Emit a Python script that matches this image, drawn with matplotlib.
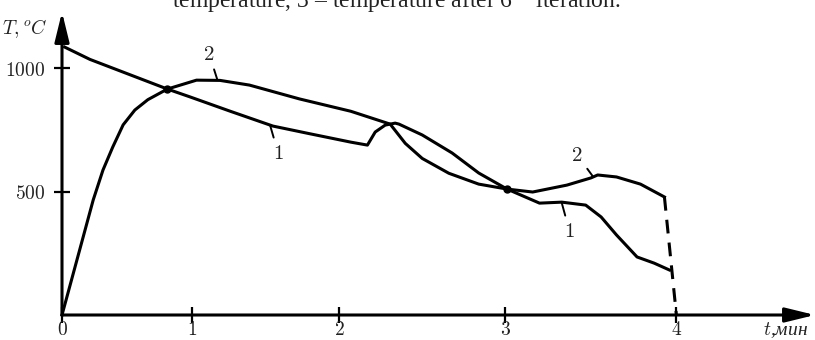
import numpy as np
import matplotlib
matplotlib.use('Agg')
import matplotlib.pyplot as plt

plt.rcParams['mathtext.fontset'] = 'cm'

# time, min / temperature, C
t1 = [0.02, 0.215, 0.81, 0.985, 1.26, 1.55, 1.80, 2.07, 2.17,
      2.217, 2.277, 2.337, 2.36, 2.50, 2.68, 2.84, 3.01,
      3.20, 3.33, 3.47, 3.56, 3.65, 3.77, 3.87, 3.96]
T1 = [1085, 1035, 915, 883, 825, 765, 734, 700, 688,
      741, 769, 777, 773, 729, 656, 575, 510,
      453, 457, 445, 397, 324, 235, 210, 182]

t2 = [0, 0.24, 0.315, 0.39, 0.47, 0.56, 0.66, 0.81, 1.03, 1.19, 1.39, 1.73, 2.07, 2.307,
      2.398, 2.50, 2.66, 2.84, 3.01, 3.16, 3.36, 3.50, 3.54, 3.65, 3.79, 3.93]
T2 = [0, 466, 587, 680, 770, 830, 872, 915, 951, 950, 931, 875, 825, 773,
      695, 634, 574, 530, 510, 498, 526, 555, 567, 559, 530, 478]

# dashed drop at the end of curve 2
t_drop = [3.93, 4.0]
T_drop = [478, 0]

# points where the curves meet
cross_t = [0.81, 3.01]
cross_T = [915, 510]

x_ticks = [0, 1, 2, 3, 4]
y_ticks = [500, 1000]

# curve numbers: text position and the point on the curve the leader goes to
lab_text = ['2', '1', '2', '1']
lab_t = [1.116, 1.585, 3.42, 3.375]
lab_T = [1057, 656, 648, 340]
lead_t = [1.17, 1.53, 3.51, 3.33]
lead_T = [956, 769, 563, 454]

# minute marks are not evenly spaced in the original drawing
knot_t = [0, 1, 2, 3, 4, 5]
knot_p = [0, 130, 277, 443, 614, 785]


def fwd(t):
    return np.interp(t, knot_t, knot_p)


def inv(p):
    return np.interp(p, knot_p, knot_t)


fig = plt.figure(figsize=(8.15, 3.4), dpi=100)
ax = fig.add_axes([62 / 815, 25 / 340, 753 / 815, 303 / 340])
ax.set_xscale('function', functions=(fwd, inv))
ax.set_xlim(0, 4.81)
ax.set_ylim(0, 1227)

lw = 2.2
ax.plot(t1, T1, color='black', lw=lw, solid_joinstyle='round', clip_on=False)
ax.plot(t2, T2, color='black', lw=lw, solid_joinstyle='round', clip_on=False)
ax.plot(t_drop, T_drop, color='black', lw=lw, ls=(0, (4.5, 3)), clip_on=False)
ax.plot(cross_t, cross_T, 'o', color='black', ms=5)

for s, tx, Tx, tp, Tp in zip(lab_text, lab_t, lab_T, lead_t, lead_T):
    ax.annotate('$%s$' % s, xy=(tp, Tp), xytext=(tx, Tx), ha='center', va='center',
                fontsize=15, color='#222222',
                arrowprops=dict(arrowstyle='-', lw=1.4, color='black',
                                shrinkA=2, shrinkB=0))

for sp in ax.spines.values():
    sp.set_visible(False)

head = '-|>,head_length=0.9,head_width=0.22'
ax.annotate('', xy=(1, 0), xytext=(0, 0), xycoords='axes fraction',
            arrowprops=dict(arrowstyle=head, lw=lw, color='black',
                            mutation_scale=20, shrinkA=0, shrinkB=0))
ax.annotate('', xy=(0, 1), xytext=(0, 0), xycoords='axes fraction',
            arrowprops=dict(arrowstyle=head, lw=lw, color='black',
                            mutation_scale=20, shrinkA=0, shrinkB=0))

ax.set_xticks(x_ticks)
ax.set_xticklabels(['$%d$' % v for v in x_ticks])
ax.set_yticks(y_ticks)
ax.set_yticklabels(['$%d$' % v for v in y_ticks])
ax.xaxis.set_minor_locator(matplotlib.ticker.NullLocator())
ax.tick_params(direction='inout', length=12, width=1.6, labelsize=14,
               labelcolor='#222222')
ax.tick_params(axis='x', pad=-2.5)
ax.tick_params(axis='y', pad=6)

fig.text(48 / 815, 1 - 29 / 340, r'$T,^{o}C$', ha='right', va='center',
         fontsize=14, color='#222222')
fig.text(808 / 815, 1 - 330 / 340, r'$t$,мин', ha='right', va='center',
         fontsize=14, color='#222222', family='Liberation Serif', style='italic')

fig.text(172 / 815, 1 - 8 / 340,
         r'temperature, 3 – temperature after 6$^{\mathrm{th}}$ iteration.',
         ha='left', va='baseline', fontsize=17, color='#222222',
         family='Liberation Serif')

fig.savefig('out.png', dpi=100)
